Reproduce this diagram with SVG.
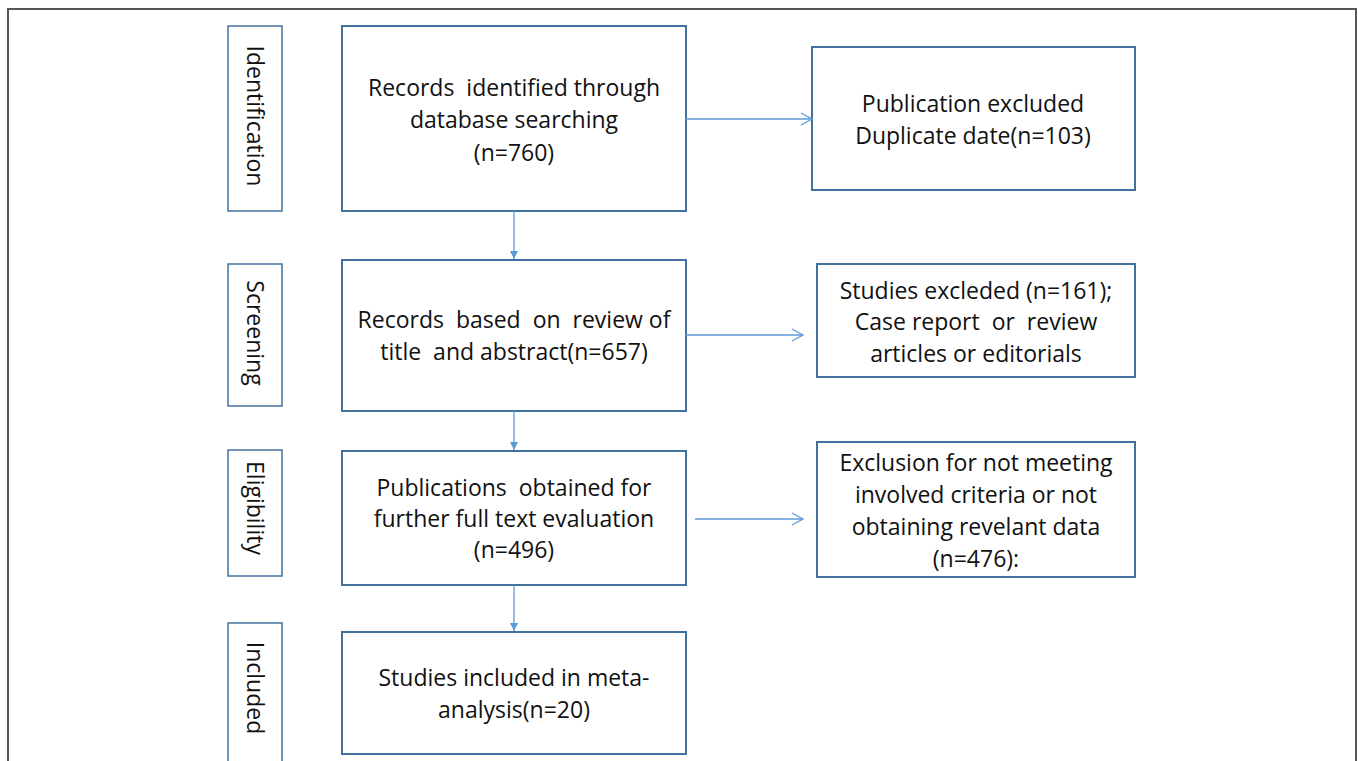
<svg xmlns="http://www.w3.org/2000/svg" width="1358" height="761" viewBox="0 0 1358 761">
<defs>
<style>
.frame{fill:none;stroke:#555;stroke-width:2}
.box{fill:#fff;stroke:#41719c;stroke-width:2}
.lab{fill:#fff;stroke:#41719c;stroke-width:1.5}
.t{font-family:"Open Sans","Liberation Sans",sans-serif;font-size:23px;fill:#111;text-anchor:middle;white-space:pre}
.con{stroke:#5b9bd5;stroke-width:1.3;fill:none}
</style>
<marker id="fa" markerWidth="10" markerHeight="10" refX="9" refY="5" orient="auto" markerUnits="userSpaceOnUse">
<path d="M1,1 L9,5 L1,9 Z" fill="#5b9bd5"/>
</marker>
<marker id="oa" markerWidth="14" markerHeight="14" refX="12" refY="7" orient="auto" markerUnits="userSpaceOnUse">
<path d="M1,1 L12,7 L1,13" fill="none" stroke="#5b9bd5" stroke-width="1.3"/>
</marker>
</defs>
<rect width="1358" height="761" fill="#fff"/>
<path class="frame" d="M8,762 V9 H1356 V762"/>

<g id="lab-identification"><rect class="lab" x="228" y="26" width="54" height="185"/><text class="t" transform="translate(255,116) rotate(90)" y="8">Identification</text></g>
<g id="lab-screening"><rect class="lab" x="228" y="264" width="54" height="142"/><text class="t" transform="translate(255,333) rotate(90)" y="8">Screening</text></g>
<g id="lab-eligibility"><rect class="lab" x="228" y="450" width="54" height="126"/><text class="t" transform="translate(255,508) rotate(90)" y="8">Eligibility</text></g>
<g id="lab-included"><rect class="lab" x="228" y="623" width="54" height="150"/><text class="t" transform="translate(255,688) rotate(90)" y="8">Included</text></g>

<g id="n1"><rect class="box" x="342" y="26" width="344" height="185"/>
<text class="t" x="514" y="96" xml:space="preserve">Records  identified through</text>
<text class="t" x="514" y="128">database searching</text>
<text class="t" x="514" y="161">(n=760)</text></g>
<g id="n2"><rect class="box" x="342" y="260" width="344" height="151"/>
<text class="t" x="514" y="328" xml:space="preserve">Records  based  on  review of</text>
<text class="t" x="514" y="360" xml:space="preserve">title  and abstract(n=657)</text></g>
<g id="n3"><rect class="box" x="342" y="451" width="344" height="134"/>
<text class="t" x="514" y="496" xml:space="preserve">Publications  obtained for</text>
<text class="t" x="514" y="527">further full text evaluation</text>
<text class="t" x="514" y="558">(n=496)</text></g>
<g id="n4"><rect class="box" x="342" y="632" width="344" height="122"/>
<text class="t" x="514" y="686">Studies included in meta-</text>
<text class="t" x="514" y="718">analysis(n=20)</text></g>

<g id="r1"><rect class="box" x="812" y="47" width="323" height="143"/>
<text class="t" x="973" y="112">Publication excluded</text>
<text class="t" x="973" y="144">Duplicate date(n=103)</text></g>
<g id="r2"><rect class="box" x="817" y="264" width="318" height="113"/>
<text class="t" x="976" y="299">Studies excleded (n=161);</text>
<text class="t" x="976" y="330" xml:space="preserve">Case report  or  review</text>
<text class="t" x="976" y="362">articles or editorials</text></g>
<g id="r3"><rect class="box" x="817" y="442" width="318" height="135"/>
<text class="t" x="976" y="471">Exclusion for not meeting</text>
<text class="t" x="976" y="503">involved criteria or not</text>
<text class="t" x="976" y="535">obtaining revelant data</text>
<text class="t" x="976" y="567">(n=476):</text></g>

<g id="connectors">
<line class="con" x1="514" y1="211" x2="514" y2="259" marker-end="url(#fa)"/>
<line class="con" x1="514" y1="411" x2="514" y2="450" marker-end="url(#fa)"/>
<line class="con" x1="514" y1="585" x2="514" y2="631" marker-end="url(#fa)"/>
<line class="con" x1="686" y1="119" x2="812" y2="119" marker-end="url(#oa)"/>
<line class="con" x1="686" y1="335" x2="803" y2="335" marker-end="url(#oa)"/>
<line class="con" x1="695" y1="519" x2="803" y2="519" marker-end="url(#oa)"/>
</g>
</svg>
